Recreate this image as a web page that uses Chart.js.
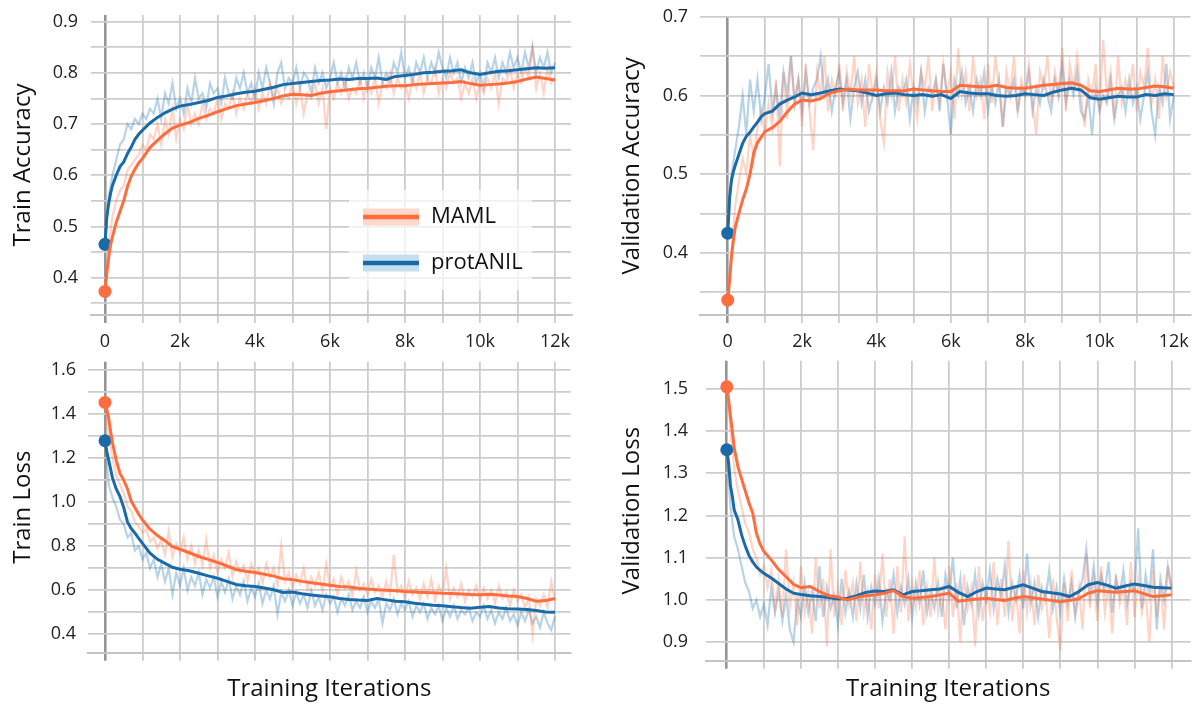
<!DOCTYPE html>
<html>
<head>
<meta charset="utf-8">
<script src="https://cdn.jsdelivr.net/npm/chart.js@4/dist/chart.umd.min.js"></script>
<style>
  html, body { margin: 0; padding: 0; background: #fff; }
  #wrap { position: relative; width: 1197px; height: 704px; }
  #wrap canvas { position: absolute; left: 0; top: 0; }
</style>
</head>
<body>
<div id="wrap">
  <canvas id="trainAcc" width="1197" height="704"></canvas>
  <canvas id="valAcc" width="1197" height="704"></canvas>
  <canvas id="trainLoss" width="1197" height="704"></canvas>
  <canvas id="valLoss" width="1197" height="704"></canvas>
</div>
<script>
// series names (legend)
const seriesNames = ["MAML", "protANIL"];

// x positions of the smoothed curves (iterations)
const smoothIters = [0,50,100,150,200,300,400,500,600,700,800,900,1000,
  1200,1400,1600,1800,2000,
  2250,2500,2750,3000,3250,3500,3750,4000,4250,4500,
  4750,5000,5250,5500,5750,6000,6250,6500,6750,7000,
  7250,7500,7750,8000,8250,8500,8750,9000,9250,9500,
  9750,10000,10250,10500,10750,11000,11250,11500,11750,12000];

// x positions of the raw (unsmoothed) traces
const rawIters = [0,100,200,300,400,500,600,700,800,900,1000,
  1100,1200,1300,1400,1500,1600,1700,1800,1900,2000,2100,
  2200,2300,2400,2500,2600,2700,2800,2900,3000,3100,3200,
  3300,3400,3500,3600,3700,3800,3900,4000,4100,4200,4300,
  4400,4500,4600,4700,4800,4900,5000,5100,5200,5300,5400,
  5500,5600,5700,5800,5900,6000,6100,6200,6300,6400,6500,
  6600,6700,6800,6900,7000,7100,7200,7300,7400,7500,7600,
  7700,7800,7900,8000,8100,8200,8300,8400,8500,8600,8700,
  8800,8900,9000,9100,9200,9300,9400,9500,9600,9700,9800,
  9900,10000,10100,10200,10300,10400,10500,10600,10700,10800,10900,
  11000,11100,11200,11300,11400,11500,11600,11700,11800,11900,12000];

// ---- Train Accuracy ----
const tlMaml = [0.373,0.41,0.44,0.465,0.48,0.508,0.529,0.55,0.578,0.598,0.612,0.624,0.633,
  0.654,0.668,0.681,0.692,0.698,
  0.703,0.711,0.717,0.724,0.730,0.736,0.739,0.742,0.746,0.750,
  0.755,0.758,0.757,0.756,0.760,0.763,0.765,0.767,0.769,0.770,
  0.772,0.774,0.775,0.775,0.777,0.778,0.779,0.780,0.781,0.783,
  0.779,0.776,0.777,0.778,0.780,0.783,0.788,0.792,0.789,0.786];
const tlProt = [0.465,0.52,0.545,0.565,0.58,0.60,0.617,0.626,0.642,0.655,0.670,0.680,0.688,
  0.702,0.713,0.722,0.729,0.735,
  0.738,0.742,0.746,0.752,0.755,0.759,0.762,0.764,0.768,0.772,
  0.777,0.779,0.781,0.783,0.785,0.786,0.788,0.787,0.789,0.789,
  0.790,0.787,0.793,0.795,0.797,0.800,0.801,0.803,0.804,0.806,
  0.800,0.797,0.800,0.803,0.804,0.806,0.808,0.810,0.809,0.810];
const tlMamlRaw = [0.373,0.47,0.52,0.55,0.57,0.58,0.61,0.62,0.63,0.64,0.66,
  0.65,0.68,0.67,0.70,0.66,0.71,0.68,0.73,0.67,0.71,0.69,
  0.74,0.70,0.72,0.70,0.74,0.71,0.73,0.72,0.75,0.71,0.74,
  0.73,0.76,0.72,0.75,0.73,0.76,0.74,0.77,0.73,0.76,0.74,
  0.78,0.75,0.77,0.74,0.76,0.75,0.78,0.74,0.77,0.72,0.76,
  0.75,0.78,0.74,0.77,0.69,0.77,0.75,0.78,0.76,0.79,0.75,
  0.77,0.76,0.79,0.75,0.78,0.76,0.79,0.74,0.78,0.77,0.80,
  0.76,0.79,0.77,0.78,0.75,0.79,0.77,0.80,0.76,0.79,0.78,
  0.81,0.76,0.79,0.77,0.80,0.78,0.79,0.75,0.78,0.76,0.79,
  0.75,0.78,0.76,0.79,0.77,0.80,0.74,0.79,0.78,0.81,0.77,
  0.80,0.78,0.81,0.79,0.85,0.77,0.80,0.76,0.81,0.78,0.79];
const tlProtRaw = [0.465,0.56,0.60,0.63,0.66,0.67,0.70,0.69,0.71,0.70,0.72,
  0.71,0.73,0.72,0.75,0.71,0.76,0.74,0.78,0.73,0.75,0.72,
  0.77,0.74,0.79,0.75,0.76,0.73,0.78,0.76,0.77,0.74,0.79,
  0.76,0.75,0.79,0.77,0.80,0.76,0.78,0.75,0.80,0.77,0.81,
  0.78,0.74,0.80,0.82,0.77,0.79,0.78,0.81,0.77,0.80,0.79,
  0.76,0.81,0.78,0.80,0.77,0.79,0.82,0.78,0.80,0.77,0.81,
  0.79,0.82,0.78,0.80,0.77,0.81,0.79,0.83,0.78,0.80,0.78,
  0.82,0.80,0.84,0.79,0.81,0.78,0.82,0.80,0.83,0.79,0.82,
  0.80,0.84,0.81,0.79,0.83,0.80,0.82,0.78,0.81,0.79,0.82,
  0.78,0.80,0.77,0.82,0.80,0.83,0.79,0.82,0.80,0.84,0.81,
  0.83,0.80,0.84,0.81,0.85,0.80,0.83,0.81,0.84,0.80,0.82];

// ---- Validation Accuracy ----
const trMaml = [0.340,0.365,0.395,0.415,0.432,0.450,0.467,0.481,0.500,0.527,0.540,0.547,0.554,
  0.559,0.567,0.579,0.589,0.594,
  0.593,0.596,0.603,0.606,0.608,0.607,0.607,0.607,0.606,0.606,
  0.606,0.608,0.607,0.606,0.605,0.605,0.613,0.612,0.611,0.611,
  0.613,0.610,0.609,0.609,0.611,0.613,0.614,0.615,0.616,0.613,
  0.606,0.605,0.607,0.609,0.608,0.608,0.610,0.612,0.611,0.609];
const trProt = [0.425,0.47,0.492,0.503,0.511,0.525,0.539,0.548,0.553,0.560,0.566,0.573,0.577,
  0.580,0.589,0.594,0.598,0.603,
  0.601,0.603,0.606,0.608,0.607,0.606,0.603,0.600,0.602,0.603,
  0.601,0.600,0.601,0.599,0.601,0.596,0.605,0.603,0.602,0.602,
  0.600,0.599,0.600,0.602,0.601,0.600,0.604,0.607,0.609,0.607,
  0.597,0.595,0.597,0.599,0.598,0.598,0.601,0.600,0.602,0.601];
const trMamlRaw = [0.34,0.40,0.46,0.49,0.52,0.50,0.55,0.52,0.56,0.58,0.55,
  0.59,0.56,0.62,0.51,0.63,0.57,0.65,0.59,0.62,0.56,0.64,
  0.58,0.53,0.63,0.60,0.65,0.58,0.62,0.60,0.64,0.58,0.63,
  0.60,0.65,0.59,0.62,0.56,0.64,0.60,0.63,0.57,0.54,0.63,
  0.60,0.65,0.58,0.62,0.59,0.64,0.60,0.57,0.63,0.61,0.65,
  0.58,0.62,0.59,0.64,0.60,0.63,0.57,0.66,0.60,0.63,0.58,
  0.65,0.60,0.62,0.57,0.64,0.59,0.65,0.61,0.56,0.63,0.60,
  0.65,0.58,0.62,0.60,0.64,0.59,0.55,0.63,0.61,0.65,0.59,
  0.63,0.60,0.66,0.58,0.64,0.61,0.65,0.60,0.56,0.62,0.60,
  0.64,0.58,0.67,0.60,0.63,0.57,0.65,0.59,0.62,0.60,0.64,
  0.58,0.63,0.61,0.66,0.59,0.62,0.57,0.65,0.60,0.63,0.61];
const trProtRaw = [0.425,0.50,0.53,0.56,0.60,0.55,0.62,0.58,0.62,0.57,0.60,
  0.64,0.58,0.61,0.57,0.63,0.60,0.65,0.59,0.62,0.58,0.63,
  0.59,0.61,0.62,0.65,0.60,0.62,0.58,0.61,0.63,0.59,0.62,
  0.57,0.61,0.63,0.59,0.62,0.58,0.60,0.62,0.58,0.61,0.59,
  0.63,0.58,0.61,0.60,0.62,0.57,0.61,0.59,0.63,0.58,0.61,
  0.60,0.62,0.58,0.64,0.60,0.55,0.62,0.60,0.63,0.59,0.61,
  0.58,0.62,0.60,0.63,0.58,0.61,0.59,0.62,0.56,0.61,0.60,
  0.62,0.58,0.61,0.60,0.63,0.58,0.61,0.59,0.62,0.60,0.58,
  0.62,0.60,0.64,0.59,0.62,0.60,0.63,0.58,0.57,0.60,0.55,
  0.61,0.58,0.60,0.59,0.62,0.57,0.60,0.61,0.58,0.62,0.59,
  0.61,0.57,0.60,0.63,0.58,0.55,0.61,0.59,0.64,0.57,0.60];

// ---- Train Loss ----
const blMaml = [1.453,1.42,1.38,1.32,1.27,1.19,1.13,1.10,1.06,1.005,0.975,0.945,0.919,
  0.877,0.848,0.825,0.798,0.786,
  0.770,0.753,0.740,0.726,0.710,0.694,0.686,0.680,0.672,0.664,
  0.652,0.648,0.640,0.634,0.628,0.622,0.617,0.614,0.609,0.605,
  0.602,0.600,0.597,0.594,0.592,0.590,0.588,0.586,0.585,0.583,
  0.580,0.579,0.582,0.578,0.574,0.571,0.562,0.550,0.553,0.562];
const blProt = [1.279,1.23,1.19,1.15,1.11,1.06,1.025,0.975,0.910,0.880,0.859,0.835,0.813,
  0.768,0.740,0.722,0.704,0.695,
  0.688,0.677,0.665,0.654,0.640,0.626,0.620,0.617,0.610,0.602,
  0.590,0.592,0.584,0.578,0.574,0.570,0.562,0.558,0.555,0.553,
  0.562,0.556,0.550,0.547,0.541,0.536,0.532,0.529,0.525,0.521,
  0.518,0.522,0.526,0.519,0.516,0.514,0.512,0.508,0.501,0.500];
const blMamlRaw = [1.45,1.30,1.20,1.12,1.08,1.04,0.98,0.96,0.91,0.89,0.86,
  0.88,0.82,0.84,0.79,0.83,0.76,0.87,0.75,0.81,0.77,0.84,
  0.74,0.80,0.72,0.78,0.71,0.83,0.70,0.76,0.68,0.74,0.70,
  0.77,0.66,0.73,0.68,0.71,0.64,0.72,0.67,0.70,0.63,0.72,
  0.66,0.70,0.62,0.80,0.64,0.68,0.61,0.67,0.63,0.70,0.60,
  0.66,0.62,0.68,0.59,0.72,0.61,0.65,0.58,0.66,0.61,0.64,
  0.57,0.69,0.60,0.63,0.58,0.65,0.59,0.62,0.57,0.64,0.58,
  0.76,0.59,0.62,0.56,0.64,0.58,0.61,0.56,0.63,0.57,0.65,
  0.55,0.62,0.58,0.70,0.56,0.61,0.57,0.63,0.55,0.60,0.57,
  0.62,0.55,0.61,0.56,0.60,0.54,0.62,0.56,0.59,0.53,0.60,
  0.55,0.58,0.52,0.57,0.40,0.56,0.53,0.58,0.52,0.64,0.55];
const blProtRaw = [1.28,1.08,1.02,0.98,0.92,0.90,0.84,0.86,0.78,0.80,0.74,
  0.77,0.70,0.74,0.66,0.72,0.64,0.70,0.58,0.68,0.62,0.70,
  0.60,0.66,0.62,0.68,0.58,0.65,0.61,0.66,0.57,0.64,0.59,
  0.65,0.56,0.62,0.58,0.64,0.55,0.61,0.57,0.63,0.54,0.60,
  0.56,0.62,0.49,0.59,0.55,0.60,0.53,0.59,0.54,0.58,0.52,
  0.60,0.53,0.57,0.51,0.58,0.54,0.57,0.50,0.56,0.53,0.58,
  0.51,0.55,0.52,0.57,0.50,0.55,0.52,0.56,0.45,0.54,0.51,
  0.56,0.49,0.54,0.51,0.55,0.48,0.53,0.50,0.54,0.47,0.52,
  0.49,0.53,0.46,0.52,0.48,0.53,0.47,0.51,0.49,0.52,0.46,
  0.50,0.48,0.53,0.47,0.51,0.45,0.50,0.47,0.52,0.46,0.49,
  0.44,0.50,0.46,0.51,0.45,0.48,0.43,0.50,0.45,0.42,0.48];

// ---- Validation Loss ----
const brMaml = [1.505,1.474,1.435,1.40,1.36,1.316,1.287,1.258,1.230,1.206,1.158,1.132,1.115,
  1.095,1.072,1.055,1.037,1.029,
  1.032,1.020,1.010,1.007,1.000,1.006,1.010,1.012,1.016,1.022,
  1.008,1.004,1.006,1.008,1.012,1.016,0.997,1.000,1.002,1.004,
  1.001,0.999,1.004,1.008,1.005,1.002,0.999,0.996,0.999,1.003,
  1.016,1.022,1.020,1.018,1.020,1.022,1.015,1.008,1.010,1.012];
const brProt = [1.356,1.324,1.27,1.245,1.213,1.190,1.154,1.127,1.105,1.090,1.078,1.070,1.063,
  1.052,1.039,1.026,1.016,1.013,
  1.010,1.008,1.006,1.002,1.004,1.010,1.018,1.021,1.020,1.024,
  1.012,1.020,1.022,1.024,1.026,1.032,1.018,1.008,1.020,1.028,
  1.026,1.024,1.030,1.036,1.028,1.020,1.017,1.014,1.008,1.020,
  1.036,1.041,1.035,1.028,1.033,1.038,1.034,1.030,1.029,1.028];
const brMamlRaw = [1.50,1.40,1.31,1.26,1.22,1.18,1.16,1.12,1.10,1.06,1.08,
  1.03,1.07,0.98,1.05,0.96,1.12,0.98,1.04,0.94,1.08,0.97,
  1.02,0.92,1.10,0.98,1.05,0.89,1.12,0.96,1.03,0.94,1.07,
  0.99,1.04,0.95,1.09,0.97,1.02,0.93,1.06,0.98,1.11,0.96,
  1.05,0.92,1.08,0.97,1.15,0.95,1.04,0.98,1.07,0.94,1.03,
  0.96,1.10,0.97,1.02,0.93,1.08,0.96,1.04,0.90,1.06,0.98,
  1.03,0.89,1.08,0.95,1.02,0.97,1.09,0.94,1.05,0.96,1.14,
  0.95,1.03,0.92,1.07,0.97,1.04,0.94,1.06,0.98,1.02,0.91,
  1.05,0.96,0.88,1.04,0.95,1.07,0.97,1.03,0.93,1.11,0.98,
  1.05,0.95,1.08,0.97,1.04,0.92,1.06,0.99,1.03,0.94,1.09,
  0.96,1.05,0.97,1.02,0.90,1.07,0.96,1.04,0.93,1.08,1.01];
const brProtRaw = [1.36,1.22,1.15,1.12,1.08,1.04,1.02,0.98,1.00,0.96,0.99,
  0.94,1.03,0.97,1.02,0.95,1.01,0.93,0.90,1.00,0.96,1.04,
  0.97,1.02,0.95,1.08,0.96,1.03,0.98,1.01,0.94,1.05,0.97,
  1.02,0.96,1.04,0.98,1.06,0.96,1.03,0.99,1.05,0.95,1.02,
  1.00,1.06,0.97,1.03,0.99,1.05,0.96,1.04,0.99,1.07,0.97,
  1.02,0.98,1.04,0.96,1.06,1.01,1.10,0.98,1.05,0.94,1.03,
  0.99,1.06,0.97,1.04,1.00,1.07,0.98,1.05,1.01,1.08,0.97,
  1.04,1.00,1.06,0.98,1.11,0.99,1.04,0.96,1.03,1.00,1.07,
  0.98,1.03,0.97,1.05,0.99,1.04,0.96,1.02,1.05,1.12,1.01,
  1.08,0.99,1.06,1.02,1.09,0.97,1.05,1.01,1.07,0.99,1.04,
  1.02,1.17,0.98,1.06,1.01,1.12,0.93,1.05,1.00,1.08,1.03];

// tick values and labels
const xTicks = [0,1000,2000,3000,4000,5000,6000,7000,8000,9000,10000,11000,12000];
const xTickText = ["0","","2k","","4k","","6k","","8k","","10k","","12k"];
const tlYTicks = [0.35,0.4,0.45,0.5,0.55,0.6,0.65,0.7,0.75,0.8,0.85,0.9];
const tlYText = ["","0.4","","0.5","","0.6","","0.7","","0.8","","0.9"];
const trYTicks = [0.35,0.4,0.45,0.5,0.55,0.6,0.65,0.7];
const trYText = ["","0.4","","0.5","","0.6","","0.7"];
const blYTicks = [0.4,0.5,0.6,0.7,0.8,0.9,1.0,1.1,1.2,1.3,1.4,1.5,1.6];
const blYText = ["0.4","","0.6","","0.8","","1.0","","1.2","","1.4","","1.6"];
const brYTicks = [0.9,1.0,1.1,1.2,1.3,1.4,1.5];
const brYText = ["0.9","1.0","1.1","1.2","1.3","1.4","1.5"];

// colours
const lineColors = ["#ff6d3f", "#1a6aa8"];
const rawColors = ["rgba(255,112,67,0.30)", "rgba(31,119,180,0.32)"];
const swatchColors = ["#ffd8cb", "#c6dff0"];
const gridColor = "#cdcdcd";
const zeroColor = "#959595";
const FONT = '"Open Sans", "DejaVu Sans", sans-serif';

function series(xs, ys, color, width, order, marker) {
  return {
    data: xs.map((x, i) => ({ x: x, y: ys[i] })),
    borderColor: color,
    backgroundColor: color,
    borderWidth: width,
    order: order,
    pointRadius: c => (marker && c.dataIndex === 0 ? 6.5 : 0),
    pointBorderWidth: 0,
    tension: 0,
    fill: false
  };
}

// legend drawn inside the train accuracy panel
const insideLegend = {
  id: "insideLegend",
  beforeDatasetsDraw(chart) {
    const c = chart.ctx;
    c.save();
    c.fillStyle = "rgba(255,255,255,0.7)";
    c.fillRect(349, 190, 183, 100);
    c.restore();
  },
  afterDraw(chart) {
    const c = chart.ctx;
    c.save();
    seriesNames.forEach((name, i) => {
      const y = 217 + i * 46;
      c.fillStyle = swatchColors[i];
      c.fillRect(363, y - 8.5, 56, 17);
      c.strokeStyle = lineColors[i];
      c.lineWidth = 4.5;
      c.beginPath();
      c.moveTo(363, y);
      c.lineTo(419, y);
      c.stroke();
      c.fillStyle = "#111";
      c.font = "22px " + FONT;
      c.textBaseline = "middle";
      c.fillText(name, 431, y);
    });
    c.restore();
  }
};

// keep the plot box exactly where the layout padding puts it
function noEdgePadding(s) {
  s.paddingTop = 0;
  s.paddingBottom = 0;
  s.paddingLeft = 0;
  s.paddingRight = 0;
}

function panel(id, o) {
  new Chart(document.getElementById(id), {
    type: "line",
    data: {
      datasets: [
        series(smoothIters, o.maml, lineColors[0], 3, 0, true),
        series(smoothIters, o.prot, lineColors[1], 3, 1, true),
        series(rawIters, o.mamlRaw, rawColors[0], 2.2, 2, false),
        series(rawIters, o.protRaw, rawColors[1], 2.2, 3, false)
      ]
    },
    options: {
      responsive: false,
      animation: false,
      events: [],
      layout: { padding: o.pad },
      plugins: { legend: { display: false }, tooltip: { enabled: false } },
      scales: {
        x: {
          type: "linear",
          min: o.xMin,
          max: o.xMax,
          afterBuildTicks: s => { s.ticks = xTicks.map(v => ({ value: v })); },
          afterFit: s => { s.height = o.xH; noEdgePadding(s); },
          grid: {
            color: c => (c.tick && c.tick.value === 0 ? zeroColor : gridColor),
            lineWidth: c => (c.tick && c.tick.value === 0 ? 2.6 : 1.8),
            tickLength: 8
          },
          border: { display: true, color: "#c4c4c4", width: 2 },
          ticks: {
            display: o.xLabels,
            autoSkip: false,
            maxRotation: 0,
            padding: 8,
            color: "#222",
            font: { family: FONT, size: 18 },
            callback: (v, i) => xTickText[i]
          },
          title: {
            display: !!o.xTitle,
            text: o.xTitle || "",
            color: "#111",
            font: { family: FONT, size: 24 },
            padding: { top: 0, bottom: 0 }
          }
        },
        y: {
          min: o.yMin,
          max: o.yMax,
          afterBuildTicks: s => { s.ticks = o.yTicks.map(v => ({ value: v })); },
          afterFit: s => { s.width = o.yW; noEdgePadding(s); },
          grid: { color: gridColor, lineWidth: 1.8, drawTicks: false },
          border: { display: false },
          ticks: {
            autoSkip: false,
            padding: o.yPad,
            color: "#222",
            font: { family: FONT, size: 18 },
            callback: (v, i) => o.yText[i]
          },
          title: {
            display: true,
            text: o.yTitle,
            color: "#111",
            font: { family: FONT, size: 24 },
            padding: { top: o.titlePad, bottom: 0 }
          }
        }
      }
    },
    plugins: o.plugins || []
  });
}

panel("trainAcc", {
  maml: tlMaml, prot: tlProt, mamlRaw: tlMamlRaw, protRaw: tlProtRaw,
  xMin: -373, xMax: 12427, yMin: 0.327, yMax: 0.913,
  yTicks: tlYTicks, yText: tlYText, yTitle: "Train Accuracy",
  pad: { left: 0, right: 626, top: 15, bottom: 349 },
  yW: 91, xH: 40, yPad: 13, titlePad: 9, xLabels: true,
  plugins: [insideLegend]
});

panel("valAcc", {
  maml: trMaml, prot: trProt, mamlRaw: trMamlRaw, protRaw: trProtRaw,
  xMin: -746, xMax: 12449, yMin: 0.321, yMax: 0.7,
  yTicks: trYTicks, yText: trYText, yTitle: "Validation Accuracy",
  pad: { left: 600, right: 3.5, top: 16.7, bottom: 349 },
  yW: 100, xH: 40, yPad: 12, titlePad: 17.6, xLabels: true
});

panel("trainLoss", {
  maml: blMaml, prot: blProt, mamlRaw: blMamlRaw, protRaw: blProtRaw,
  xMin: -453, xMax: 12416, yMin: 0.316, yMax: 1.638,
  yTicks: blYTicks, yText: blYText, yTitle: "Train Loss",
  pad: { left: 0, right: 626.4, top: 361.7, bottom: 0 },
  yW: 88, xH: 51.3, yPad: 12, titlePad: 9, xLabels: false,
  xTitle: "Training Iterations"
});

panel("valLoss", {
  maml: brMaml, prot: brProt, mamlRaw: brMamlRaw, protRaw: brProtRaw,
  xMin: -561, xMax: 12511, yMin: 0.856, yMax: 1.567,
  yTicks: brYTicks, yText: brYText, yTitle: "Validation Loss",
  pad: { left: 600, right: 1.6, top: 360.7, bottom: 0 },
  yW: 106, xH: 43.3, yPad: 18, titlePad: 18, xLabels: false,
  xTitle: "Training Iterations"
});
</script>
</body>
</html>
